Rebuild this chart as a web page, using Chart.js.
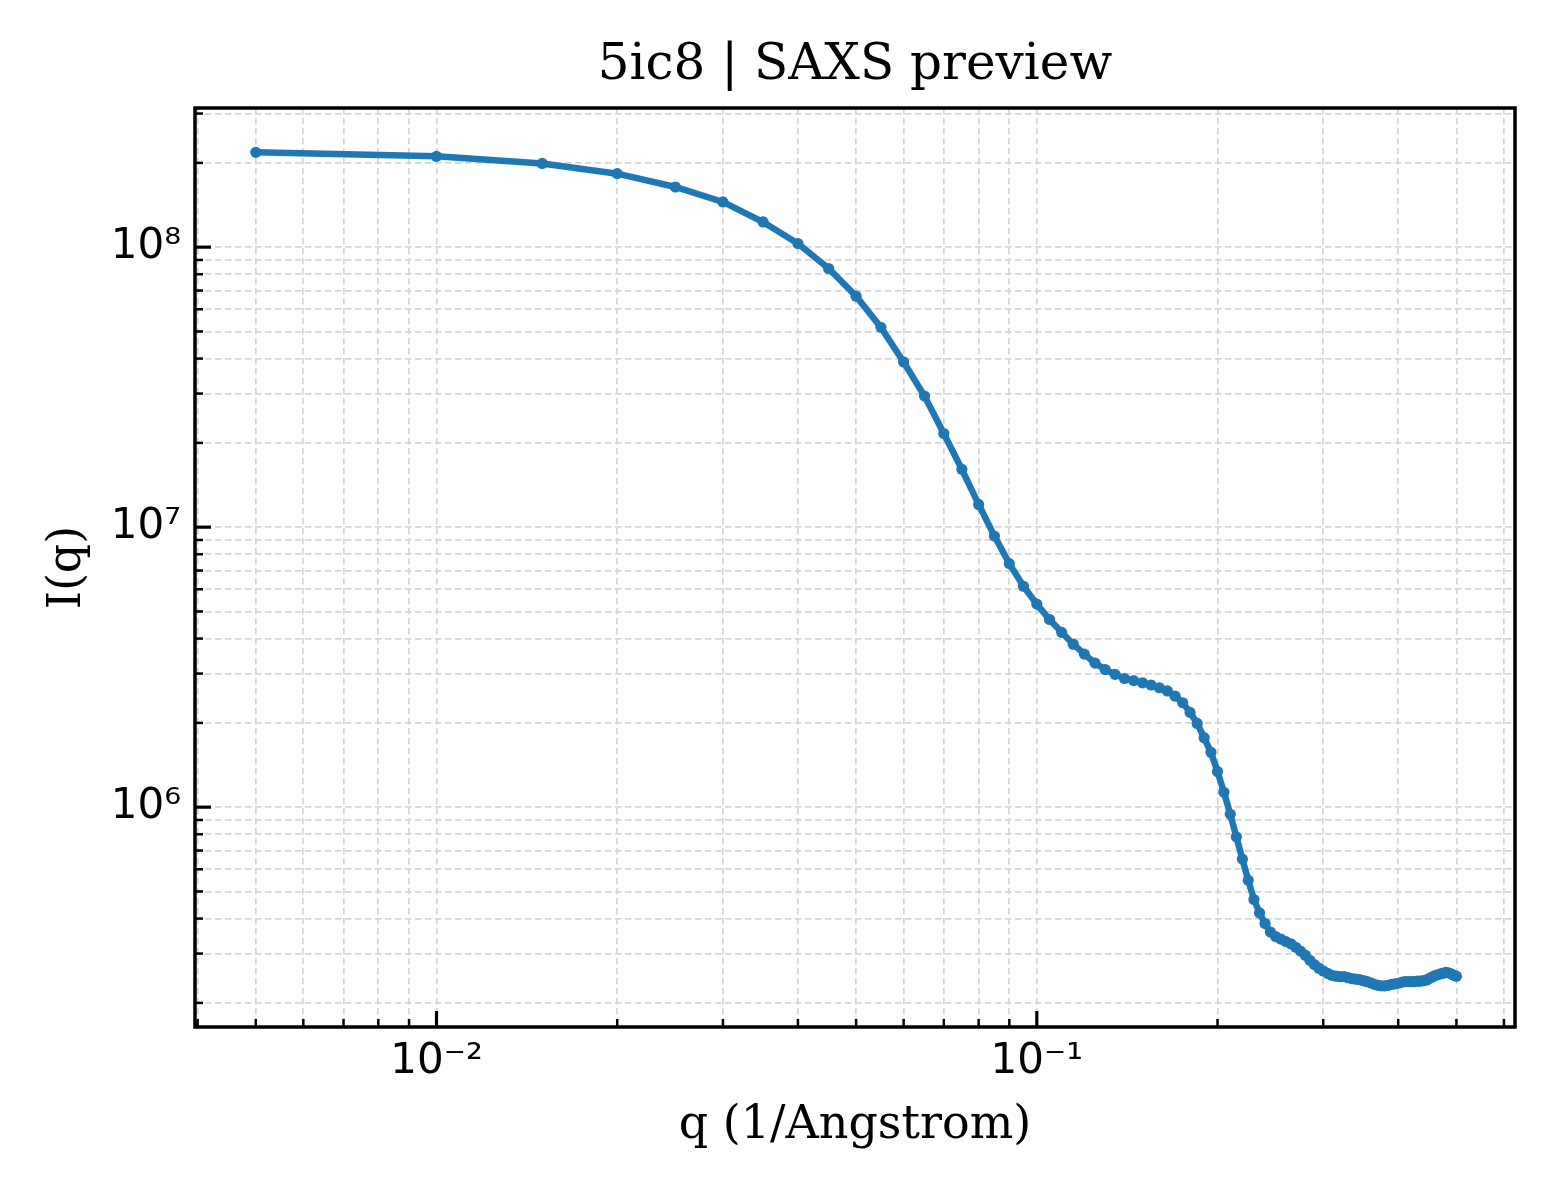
<!DOCTYPE html>
<html>
<head>
<meta charset="utf-8">
<title>5ic8 | SAXS preview</title>
<script src="https://cdn.jsdelivr.net/npm/chart.js@4.4.1/dist/chart.umd.min.js"></script>
<style>
  html, body { margin: 0; padding: 0; background: #fff; }
  canvas { display: block; }
</style>
</head>
<body>
<canvas id="saxsChart" width="1560" height="1200" style="width:1560px;height:1200px"></canvas>
<script>
// scattering vector q (1/Angstrom)
const qValues = [
  0.005, 0.010, 0.015, 0.020, 0.025, 0.030, 0.035, 0.040, 0.045, 0.050,
  0.055, 0.060, 0.065, 0.070, 0.075, 0.080, 0.085, 0.090, 0.095, 0.100,
  0.105, 0.110, 0.115, 0.120, 0.125, 0.130, 0.135, 0.140, 0.145, 0.150,
  0.155, 0.160, 0.165, 0.170, 0.175, 0.180, 0.185, 0.190, 0.195, 0.200,
  0.205, 0.210, 0.215, 0.220, 0.225, 0.230, 0.235, 0.240, 0.245, 0.250,
  0.255, 0.260, 0.265, 0.270, 0.275, 0.280, 0.285, 0.290, 0.295, 0.300,
  0.305, 0.310, 0.315, 0.320, 0.325, 0.330, 0.335, 0.340, 0.345, 0.350,
  0.355, 0.360, 0.365, 0.370, 0.375, 0.380, 0.385, 0.390, 0.395, 0.400,
  0.405, 0.410, 0.415, 0.420, 0.425, 0.430, 0.435, 0.440, 0.445, 0.450,
  0.455, 0.460, 0.465, 0.470, 0.475, 0.480, 0.485, 0.490, 0.495, 0.500
];

// intensity I(q)
const intensity = [
  2.18e8, 2.11e8, 1.99e8, 1.83e8, 1.64e8, 1.45e8, 1.23e8, 1.03e8, 8.39e7, 6.68e7,
  5.17e7, 3.89e7, 2.94e7, 2.16e7, 1.61e7, 1.205e7, 9.29e6, 7.41e6, 6.15e6, 5.31e6,
  4.68e6, 4.21e6, 3.82e6, 3.52e6, 3.27e6, 3.10e6, 2.98e6, 2.88e6, 2.83e6, 2.78e6,
  2.73e6, 2.67e6, 2.60e6, 2.49e6, 2.36e6, 2.18e6, 1.99e6, 1.77e6, 1.57e6, 1.34e6,
  1.13e6, 9.44e5, 7.83e5, 6.52e5, 5.48e5, 4.68e5, 4.19e5, 3.84e5, 3.58e5, 3.45e5,
  3.38e5, 3.31e5, 3.25e5, 3.16e5, 3.06e5, 2.96e5, 2.84e5, 2.74e5, 2.66e5, 2.60e5,
  2.55e5, 2.51e5, 2.49e5, 2.48e5, 2.48e5, 2.46e5, 2.44e5, 2.43e5, 2.42e5, 2.40e5,
  2.38e5, 2.36e5, 2.33e5, 2.31e5, 2.30e5, 2.30e5, 2.31e5, 2.33e5, 2.34e5, 2.35e5,
  2.37e5, 2.38e5, 2.38e5, 2.38e5, 2.38e5, 2.39e5, 2.39e5, 2.40e5, 2.41e5, 2.44e5,
  2.47e5, 2.50e5, 2.52e5, 2.54e5, 2.55e5, 2.57e5, 2.56e5, 2.54e5, 2.51e5, 2.49e5
];

// axis ranges and labelled decades
const xRange = [0.00396, 0.626];
const yRange = [1.64e5, 3.14e8];
const xMajor = [0.01, 0.1];
const xMajorLabels = ['10\u207B\u00B2', '10\u207B\u00B9'];
const yMajor = [1e6, 1e7, 1e8];
const yMajorLabels = ['10\u2076', '10\u2077', '10\u2078'];

function logTicks(min, max) {
  // 1..9 x 10^n inside the range, like matplotlib's major + minor log ticks
  let ticks = [];
  for (let e = Math.floor(Math.log10(min)); e <= Math.ceil(Math.log10(max)); e++) {
    for (let m = 1; m <= 9; m++) {
      let v = Number((m * Math.pow(10, e)).toPrecision(6));
      if (v >= min && v <= max) ticks.push({value: v});
    }
  }
  return ticks;
}

function isPow10(v) {
  let l = Math.log10(v);
  return Math.abs(l - Math.round(l)) < 1e-6;
}

function majorLabel(value, majors, labels) {
  let i = majors.findIndex(m => Math.abs(value / m - 1) < 1e-6);
  return i >= 0 ? labels[i] : '';
}

// inward ticks on bottom/left and the black frame
const frameAndTicks = {
  id: 'frameAndTicks',
  afterDatasetsDraw(chart) {
    const {ctx, chartArea: a, scales} = chart;
    ctx.save();
    ctx.strokeStyle = '#000';
    ctx.lineCap = 'butt';
    scales.x.ticks.forEach(t => {
      let px = scales.x.getPixelForValue(t.value);
      let major = isPow10(t.value);
      ctx.lineWidth = major ? 3.2 : 2.5;
      ctx.beginPath();
      ctx.moveTo(px, a.bottom);
      ctx.lineTo(px, a.bottom - (major ? 16 : 8));
      ctx.stroke();
    });
    scales.y.ticks.forEach(t => {
      let py = scales.y.getPixelForValue(t.value);
      let major = isPow10(t.value);
      ctx.lineWidth = major ? 3.2 : 2.5;
      ctx.beginPath();
      ctx.moveTo(a.left, py);
      ctx.lineTo(a.left + (major ? 16 : 8), py);
      ctx.stroke();
    });
    ctx.lineWidth = 3.5;
    ctx.strokeRect(a.left, a.top, a.right - a.left, a.bottom - a.top);
    ctx.restore();
  }
};

const points = qValues.map((q, i) => ({x: q, y: intensity[i]}));

const ctx = document.getElementById('saxsChart').getContext('2d');
const saxsChart = new Chart(ctx, {
  type: 'line',
  data: {
    datasets: [{
      label: 'I(q)',
      data: points,
      borderColor: '#1f77b4',
      backgroundColor: '#1f77b4',
      borderWidth: 6.5,
      pointRadius: 5.6,
      pointBorderWidth: 0,
      pointBackgroundColor: '#1f77b4',
      tension: 0,
      fill: false
    }]
  },
  options: {
    responsive: false,
    devicePixelRatio: 1,
    animation: false,
    layout: { padding: { left: 0, right: 45, top: 0, bottom: 0 } },
    scales: {
      x: {
        type: 'logarithmic',
        position: 'bottom',
        min: xRange[0],
        max: xRange[1],
        afterBuildTicks: scale => { scale.ticks = logTicks(xRange[0], xRange[1]); },
        afterFit: scale => { scale.height = 173; },
        grid: { color: '#d5d5d5', lineWidth: 1.7, drawTicks: false },
        border: { display: false, dash: [6.5, 3.5] },
        ticks: {
          autoSkip: false,
          maxRotation: 0,
          padding: 10,
          color: '#000',
          font: { family: 'DejaVu Sans', size: 42 },
          callback: value => majorLabel(value, xMajor, xMajorLabels)
        },
        title: {
          display: true,
          text: 'q (1/Angstrom)',
          color: '#000',
          font: { family: 'DejaVu Serif', size: 46 },
          padding: { top: 0, bottom: 46 }
        }
      },
      y: {
        type: 'logarithmic',
        position: 'left',
        min: yRange[0],
        max: yRange[1],
        afterBuildTicks: scale => { scale.ticks = logTicks(yRange[0], yRange[1]); },
        afterFit: scale => { scale.width = 195; },
        grid: { color: '#d5d5d5', lineWidth: 1.7, drawTicks: false },
        border: { display: false, dash: [6.5, 3.5] },
        ticks: {
          autoSkip: false,
          padding: 14,
          color: '#000',
          font: { family: 'DejaVu Sans', size: 42 },
          callback: value => majorLabel(value, yMajor, yMajorLabels)
        },
        title: {
          display: true,
          text: 'I(q)',
          color: '#000',
          font: { family: 'DejaVu Serif', size: 46 },
          padding: { top: 40, bottom: 0 }
        }
      }
    },
    plugins: {
      legend: { display: false },
      tooltip: { enabled: false },
      title: {
        display: true,
        fullSize: false,
        text: '5ic8 | SAXS preview',
        color: '#000',
        font: { family: 'DejaVu Serif', size: 50, weight: 'normal' },
        padding: { top: 36, bottom: 12 }
      }
    }
  },
  plugins: [frameAndTicks]
});
</script>
</body>
</html>
